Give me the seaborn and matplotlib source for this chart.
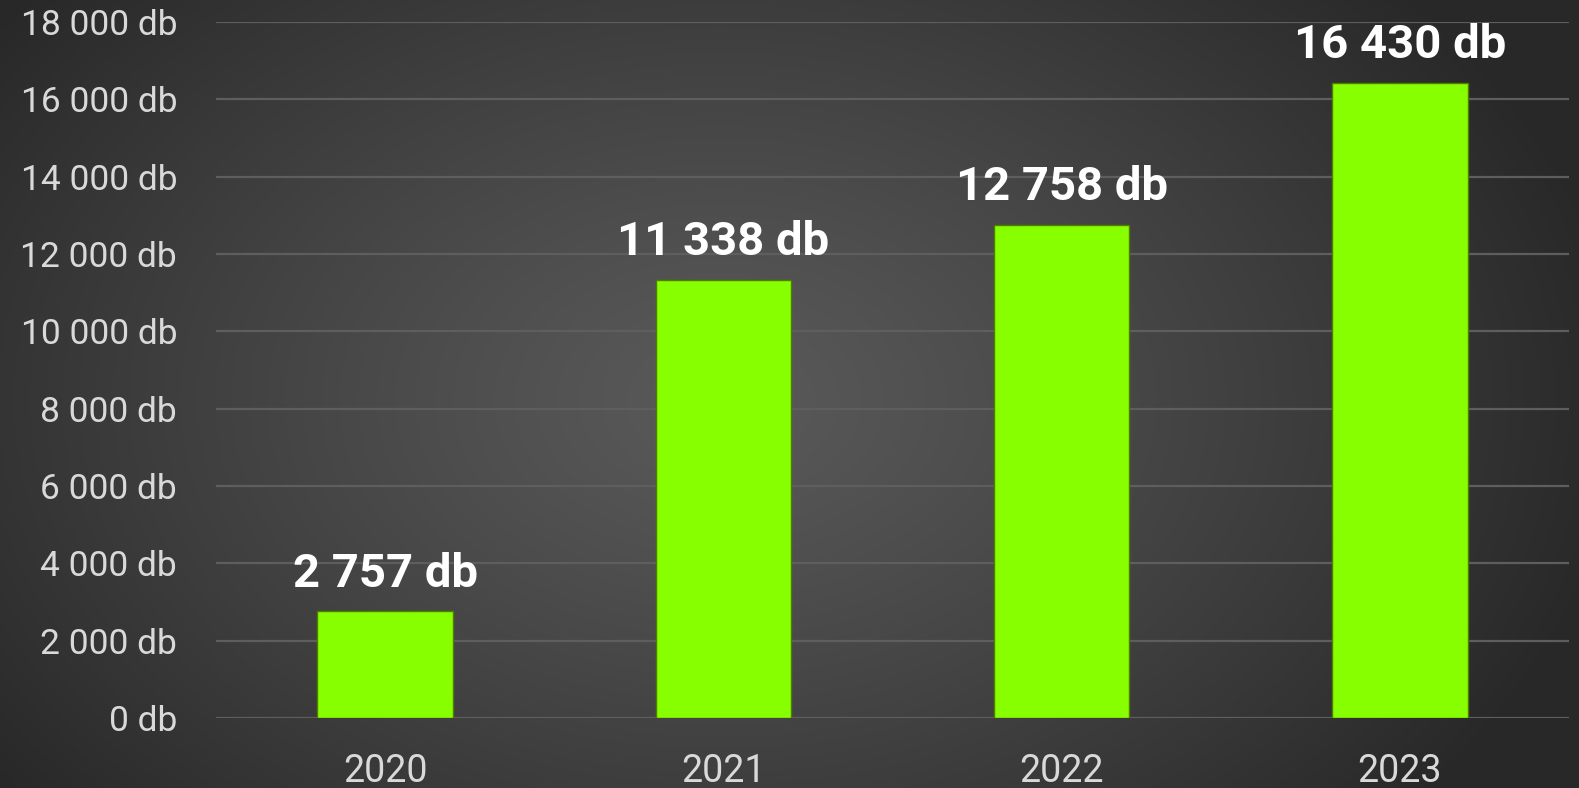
import numpy as np
import pandas as pd
import matplotlib
matplotlib.use("Agg")
import matplotlib.pyplot as plt
import seaborn as sns

years = ["2020", "2021", "2022", "2023"]
values = [2757, 11338, 12758, 16430]
yticks = [0, 2000, 4000, 6000, 8000, 10000, 12000, 14000, 16000, 18000]

def fmt(v):
    return f"{v:,}".replace(",", " ") + " db"

sns.set_theme(style="dark")
plt.rcParams['font.family'] = ['Roboto', 'DejaVu Sans']

W, H = 1579, 788
fig = plt.figure(figsize=(W / 100, H / 100), dpi=100)

# radial gradient background
bg = fig.add_axes([0, 0, 1, 1], zorder=-10)
yy, xx = np.mgrid[0:H, 0:W]
cx, cy = 720, 400
r = np.sqrt(((xx - cx) / 900.0) ** 2 + ((yy - cy) / 620.0) ** 2)
r = np.clip(r, 0, 1)
lum = 0.35 - (0.35 - 0.16) * r ** 1.2
img = np.dstack([lum, lum, lum])
bg.imshow(img, aspect="auto", extent=[0, 1, 0, 1], origin="upper")
bg.axis("off")

ax = fig.add_axes([216 / W, 1 - 718 / H, (1569 - 216) / W, (718 - 22) / H])
ax.patch.set_alpha(0)
df = pd.DataFrame({"year": years, "value": values})
sns.barplot(data=df, x="year", y="value", color="#88FF00", saturation=1,
            width=0.4, ax=ax, zorder=3, edgecolor="#4f7f00", linewidth=1.0)

ax.set_ylim(0, 18000)
ax.set_xlim(-0.5, 3.5)
ax.set_yticks(yticks)
ax.set_yticklabels([fmt(v) for v in yticks])
ax.grid(axis="y", color="#5e5e5e", linewidth=1.6, zorder=0)
ax.grid(axis="x", visible=False)
ax.set_axisbelow(True)
for s in ax.spines.values():
    s.set_visible(False)
ax.set_xlabel("")
ax.set_ylabel("")
ax.tick_params(axis="y", colors="#d9d9d9", labelsize=25.5, pad=28, length=0)
ax.tick_params(axis="x", colors="#d9d9d9", labelsize=27, pad=25, length=0)

ax.bar_label(ax.containers[0], labels=[fmt(v) for v in values], padding=11,
             color="white", fontsize=34, fontweight="bold")

fig.savefig("out.png", dpi=100)
